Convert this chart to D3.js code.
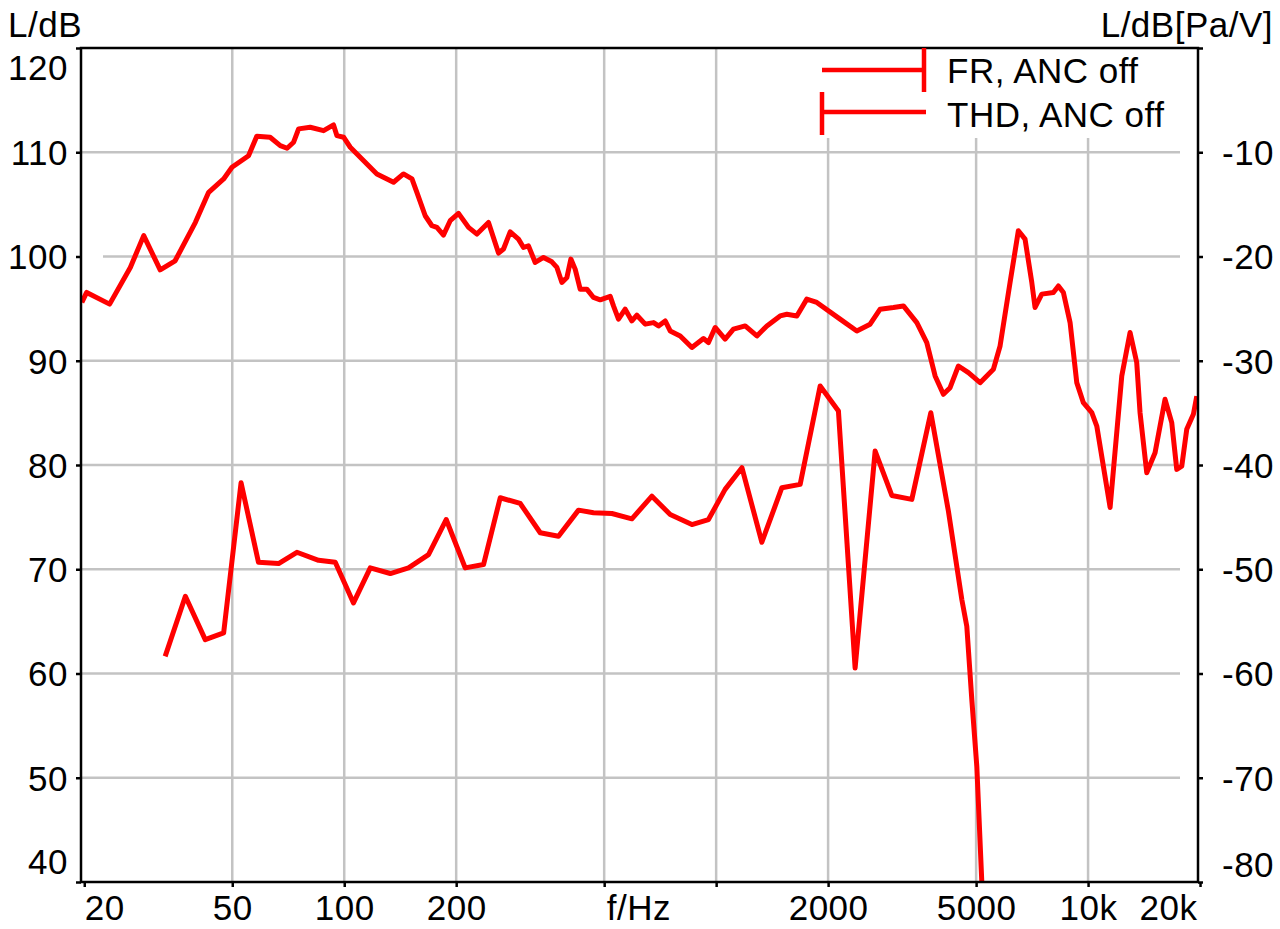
<!DOCTYPE html>
<html>
<head>
<meta charset="utf-8">
<script src="https://cdn.jsdelivr.net/npm/d3@7"></script>
<style>
  body { margin: 0; background: #fff; }
  text { font-family: "Liberation Sans", Arial, sans-serif; font-size: 35px; letter-spacing: 0.5px; fill: #000; }
</style>
</head>
<body>
<script>
// frequency response, right axis (dB Pa/V)
var frFreq = [19.7, 20.3, 23.4, 26.6, 28.9, 32.0, 35.1, 39.8, 43.2, 47.4, 49.9, 55.3, 58.2, 63.2, 67.3,
  70.2, 73.1, 75.4, 81.0, 88.0, 93.6, 95.6, 99.6, 103.8, 122.4, 135.7, 144.3, 152.1, 156.8, 165.1,
  172.1, 177.5, 184.9, 192.7, 202.9, 215.9, 227.4, 244.3, 259.9, 268.1, 279.4, 294.1, 303.4, 312.9,
  326.2, 343.4, 361.6, 373.1, 384.8, 396.9, 406.8, 417.8, 430.9, 449.1, 468.0, 487.8, 519.0, 529.6,
  546.3, 569.4, 593.5, 612.2, 644.5, 678.6, 699.9, 729.5, 752.4, 800.5, 860.6, 924.5, 953.5, 993.8,
  1057, 1113, 1197, 1287, 1369, 1486, 1549, 1648, 1753, 1865, 2154, 2389, 2594, 2760, 2996, 3188,
  3464, 3684, 3879, 4083, 4256, 4481, 4767, 5125, 5565, 5800, 6170, 6495, 6769, 7058, 7202, 7507,
  8068, 8322, 8583, 8946, 9324, 9713, 10233, 10554, 11461, 12320, 12970, 13515, 13796, 14380, 15140,
  16106, 16788, 17316, 17862, 18420, 19192, 19600];
var frLevel = [-24.4, -23.45, -24.57, -21.05, -18.0, -21.28, -20.41, -16.72, -13.84, -12.56, -11.44, -10.33, -8.46, -8.56, -9.37,
  -9.62, -9.04, -7.76, -7.6, -7.93, -7.38, -8.41, -8.56, -9.52, -12.08, -12.88, -12.08, -12.56, -13.84, -16.09,
  -17.05, -17.21, -17.94, -16.57, -15.86, -17.21, -17.85, -16.73, -19.67, -19.28, -17.63, -18.33, -19.13, -18.98,
  -20.57, -20.09, -20.51, -21.05, -22.49, -22.01, -20.25, -21.21, -23.13, -23.13, -23.93, -24.16, -23.83, -24.74,
  -26.01, -25.05, -26.18, -25.63, -26.49, -26.34, -26.66, -26.18, -27.14, -27.62, -28.73, -27.87, -28.26, -26.81,
  -27.93, -26.97, -26.66, -27.62, -26.66, -25.7, -25.54, -25.7, -24.09, -24.41, -26.01, -27.14, -26.49, -25.05, -24.89, -24.74,
  -26.34, -28.26, -31.46, -33.22, -32.58, -30.5, -31.14, -32.1, -30.82, -28.58, -22.49, -17.53, -18.33, -22.49, -24.89, -23.61,
  -23.45, -22.82, -23.45, -26.34, -32.1, -34.02, -34.98, -36.26, -44.07, -31.46, -27.29, -30.17, -34.98, -40.74, -38.83,
  -33.7, -35.94, -40.42, -40.11, -36.58, -35.14, -33.39];

// distortion, left axis (dB)
var thdFreq = [33.0, 37.4, 42.3, 47.4, 52.8, 58.8, 66.6, 74.6, 85.3, 94.6, 105.9, 117.5, 133.0, 148.9, 168.5,
  188.0, 211.5, 236.9, 262.7, 297.3, 336.5, 376.8, 426.5, 468.0, 524.4, 593.5, 671.8, 752.4, 860.6, 953.5,
  1057, 1173, 1327, 1502, 1682, 1904, 2132, 2364, 2676, 2967, 3358, 3777, 4212, 4577, 4720, 4869, 5022, 5179, 5260];
var thdLevel = [61.64, 67.41, 63.25, 63.89, 78.3, 70.67, 70.55, 71.63, 70.86, 70.67, 66.77, 70.13, 69.59, 70.13, 71.41,
  74.77, 70.13, 70.45, 76.86, 76.31, 73.5, 73.17, 75.67, 75.42, 75.35, 74.84, 77.01, 75.25, 74.29, 74.77,
  77.66, 79.74, 72.59, 77.82, 78.14, 87.58, 85.18, 60.53, 81.34, 77.08, 76.7, 85.02, 75.57, 67.09, 64.52, 57.48, 51.08, 40.03, 36.0];

var leftTicks = [40, 50, 60, 70, 80, 90, 100, 110, 120];
var rightTicks = [-80, -70, -60, -50, -40, -30, -20, -10, 0];
var freqTicks = [20, 50, 100, 200, 500, 1000, 2000, 5000, 10000, 20000];
var freqLabels = ["20", "50", "100", "200", "f/Hz", "", "2000", "5000", "10k", "20k"];
var gridFreqs = [50, 100, 200, 500, 1000, 2000, 5000, 10000];
var legendNames = ["FR, ANC off", "THD, ANC off"];

var W = 1280, H = 929;
var L = 81, R = 1198, T = 48, B = 882;

var svg = d3.select("body").append("svg").attr("width", W).attr("height", H);

var x = d3.scaleLog().domain([19.6, 19750]).range([L, R]);
var yL = d3.scaleLinear().domain([40, 120]).range([B, T]);
var yR = d3.scaleLinear().domain([-80, 0]).range([B, T]);

// grid
var grid = svg.append("g").attr("stroke", "#c3c3c3").attr("stroke-width", 2.5);
grid.selectAll("line.h").data(leftTicks.slice(1, -1)).enter().append("line")
  .attr("x1", function(d) { return d === 100 ? 103 : L; }).attr("x2", 1180)
  .attr("y1", function(d) { return yL(d); }).attr("y2", function(d) { return yL(d); });
grid.selectAll("line.v").data(gridFreqs).enter().append("line")
  .attr("x1", function(d) { return x(d); }).attr("x2", function(d) { return x(d); })
  .attr("y1", T).attr("y2", B);

// legend background hides the grid under it
svg.append("rect").attr("x", 790).attr("y", T + 1).attr("width", R - 791).attr("height", 89).attr("fill", "#fff");

// curves
svg.append("clipPath").attr("id", "plot").append("rect")
  .attr("x", L).attr("y", T).attr("width", R - L).attr("height", B - T);

var frLine = d3.line().x(function(d, i) { return x(frFreq[i]); }).y(function(d) { return yR(d); });
var thdLine = d3.line().x(function(d, i) { return x(thdFreq[i]); }).y(function(d) { return yL(d); });

var curves = svg.append("g").attr("clip-path", "url(#plot)")
  .attr("fill", "none").attr("stroke", "#ff0000").attr("stroke-width", 5)
  .attr("stroke-linejoin", "round");
curves.append("path").attr("d", frLine(frLevel));
curves.append("path").attr("d", thdLine(thdLevel));

// frame
svg.append("rect").attr("x", L).attr("y", T).attr("width", R - L).attr("height", B - T)
  .attr("fill", "none").attr("stroke", "#000").attr("stroke-width", 2.5);

// axes
function styleAxis(g) {
  g.select(".domain").remove();
  g.selectAll(".tick line").attr("stroke", "#000").attr("stroke-width", 2.5);
  g.selectAll(".tick text").attr("font-size", null).attr("font-family", null).attr("fill", "#000");
}

var gl = svg.append("g").attr("transform", "translate(" + L + ",0)")
  .call(d3.axisLeft(yL).tickValues(leftTicks).tickSize(5).tickPadding(8).tickSizeOuter(0))
  .call(styleAxis);
gl.selectAll(".tick text").attr("dy", function(d) {
  return d === 120 ? "0.91em" : d === 40 ? "-0.23em" : "0.35em";
});

var gr = svg.append("g").attr("transform", "translate(" + R + ",0)")
  .call(d3.axisRight(yR).tickValues(rightTicks).tickSize(5).tickPadding(19).tickSizeOuter(0))
  .call(styleAxis);
gr.selectAll(".tick text")
  .text(function(d) { return d === 0 ? "" : d; })
  .attr("dy", function(d) { return d === -80 ? "-0.17em" : "0.35em"; });

var gb = svg.append("g").attr("transform", "translate(0," + B + ")")
  .call(d3.axisBottom(x).tickValues(freqTicks).tickSize(5).tickPadding(8).tickSizeOuter(0)
    .tickFormat(function(d, i) { return freqLabels[i]; }))
  .call(styleAxis);
gb.selectAll(".tick text")
  .attr("text-anchor", function(d) { return d === 20 || d === 500 ? "start" : d === 20000 ? "end" : "middle"; })
  .attr("x", function(d) { return d === 20 ? 0 : d === 500 ? 2 : d === 20000 ? -3 : 0; });

// axis titles
svg.append("text").attr("x", 8).attr("y", 37).text("L/dB");
svg.append("text").attr("x", 1273).attr("y", 37).attr("text-anchor", "end").text("L/dB[Pa/V]");

// legend
var lg = svg.append("g").attr("fill", "none").attr("stroke", "#ff0000").attr("stroke-width", 4.5);
lg.append("path").attr("d", "M822,70H924M924,48V92");
lg.append("path").attr("d", "M822,112H926M822,92V135");
svg.selectAll("text.legend").data(legendNames).enter().append("text")
  .attr("class", "legend").attr("x", 947).attr("y", function(d, i) { return 83 + i * 44; })
  .text(function(d) { return d; });
</script>
</body>
</html>
